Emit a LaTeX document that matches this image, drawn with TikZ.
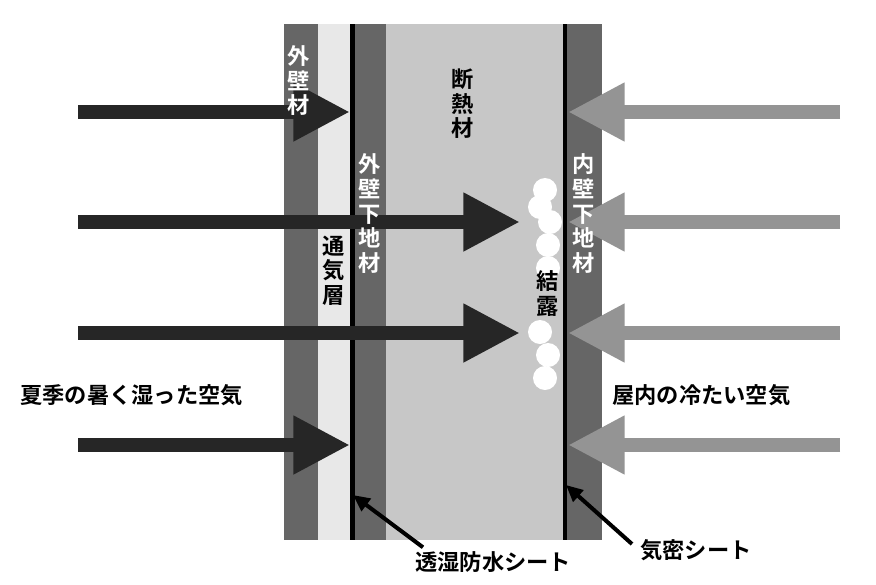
\documentclass[tikz,border=0pt]{standalone}
\usepackage{fontspec}
\newfontfamily\jpfont{Noto Sans CJK JP Bold}
\usetikzlibrary{arrows.meta}
\newcommand{\tate}[1]{\def\tateacc{}\tateloop#1\relax}
\def\tateloop#1{\ifx#1\relax\else#1\\\expandafter\tateloop\fi}
\begin{document}
\begin{tikzpicture}[x=0.03cm,y=-0.03cm,
    band/.style={fill=#1, draw=none},
    flow/.style={draw=#1, line width=0.42cm,
      -{Triangle[length=1.7cm,width=1.65cm,fill=#1]}},
    lbl/.style={font=\jpfont\fontsize{19}{21}\selectfont, text=#1,
      align=center, inner sep=0pt},
    drop/.style={circle, fill=white, minimum size=0.72cm, inner sep=0pt},
    pointer/.style={line width=0.12cm, -{Triangle[length=0.5cm,width=0.45cm]}}
]
\useasboundingbox (0,0) rectangle (876,584);
% wall layers
\fill[band=black!60] (284,24) rectangle (318,540);
\fill[band=black!9] (318,24) rectangle (350,540);
\fill[band=black!60] (355,24) rectangle (386,540);
\fill[band=black!22] (386,24) rectangle (563,540);
\fill[band=black!60] (567,24) rectangle (602,540);
\fill[black] (350,24) rectangle (355,540);
\fill[black] (563,24) rectangle (567,540);
% air flows
\foreach \y/\xe [count=\i] in {112/350,222/520,333/520,445/350}{
  \coordinate (out\i) at (78,\y);
  \coordinate (hit\i) at (\xe,\y);
  \draw[flow=black!85] (out\i) -- (hit\i);
}
\foreach \y [count=\i] in {112,222,333,445}{
  \coordinate (in\i) at (840,\y);
  \coordinate (wall\i) at (568,\y);
  \draw[flow=black!42] (in\i) -- (wall\i);
}
% condensation
\foreach \x/\y in {545/190,540/207,550/222,548/245,548/268,540/332,548/355,545/378}
  \node[drop] at (\x,\y) {};
% labels
\node[lbl=white] (ow) at (299,92) {\tate{外壁材}};
\node[lbl=white] (owb) at (370,225) {\tate{外壁下地材}};
\node[lbl=black] (vent) at (334,282) {\tate{通気層}};
\node[lbl=black] (ins) at (463,115) {\tate{断熱材}};
\node[lbl=white] (iwb) at (584,225) {\tate{内壁下地材}};
\node[lbl=black] (dew) at (548,305) {\tate{結露}};
\node[lbl=black, anchor=west] (hot) at (20,395) {夏季の暑く湿った空気};
\node[lbl=black, anchor=west] (cool) at (612,395) {屋内の冷たい空気};
\node[lbl=black, anchor=west] (wrb) at (415,562) {透湿防水シート};
\node[lbl=black, anchor=west] (seal) at (640,550) {気密シート};
\coordinate (wrbTip) at (353,495);
\coordinate (sealTip) at (566,485);
\draw[pointer] (wrb.north west) ++(8,-4) -- (wrbTip);
\draw[pointer] (seal.west) ++(-8,-6) -- (sealTip);
\end{tikzpicture}
\end{document}
